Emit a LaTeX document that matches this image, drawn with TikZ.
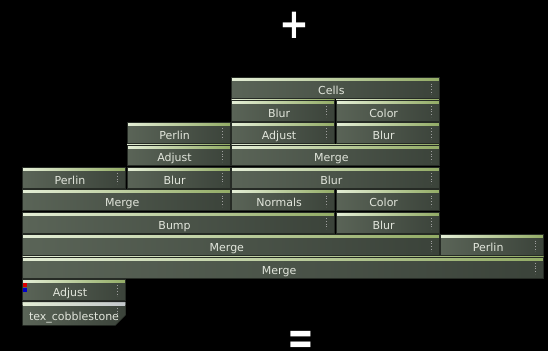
\documentclass[tikz,border=0pt]{standalone}
\usepackage{fontspec}
\setmainfont{DejaVu Sans}
\usetikzlibrary{shapes.misc}
\definecolor{opbody}{HTML}{5A6457}
\definecolor{opdark}{HTML}{3B433A}
\definecolor{oplight}{HTML}{E4EED6}
\definecolor{opgreen}{HTML}{93AC66}
\definecolor{opedge}{HTML}{262B25}
\definecolor{optext}{HTML}{E2E6DC}
\definecolor{storetop}{HTML}{C4C8CC}
\tikzset{
  opbase/.style={rectangle, draw=opedge, line width=0.5pt,
    left color=opbody, right color=opdark, text=optext,
    font=\fontsize{11}{13}\selectfont, anchor=north west,
    minimum height=20.8pt, inner sep=0pt, text height=13.4pt, text depth=0pt,
    path picture={
      \shade[left color=oplight, right color=#1]
        (path picture bounding box.north west) rectangle
        ([yshift=-3.2pt]path picture bounding box.north east);
      \draw[dotted, gray!75, line width=0.7pt]
        ([xshift=-8pt,yshift=-6pt]path picture bounding box.north east) --
        ([xshift=-8pt,yshift=4pt]path picture bounding box.south east);
    }},
  op/.style={opbase=opgreen, minimum width=#1*104.54pt-1.6pt,
    execute at end node={\hspace*{8pt}}},
  op/.default=1,
  store/.style={opbase=storetop, chamfered rectangle,
    chamfered rectangle corners=south east, chamfered rectangle sep=5pt,
    minimum width=102.9pt},
  sign/.style={text=white, font=\bfseries, inner sep=0pt, anchor=base}
}
\begin{document}
\begin{tikzpicture}[x=1pt, y=-1pt]
  \path[use as bounding box, fill=black] (0,0) rectangle (548,351);

  % grid of stack cells
  \foreach \c in {0,...,5}
    \foreach \r in {0,...,10}
      \coordinate (g-\c-\r) at ({22.3+104.54*\c},{77.3+22.43*\r});

  \node[sign, font=\bfseries\fontsize{42}{42}\selectfont] (plus) at (294,38.5)
    {\scalebox{0.85}[1]{+}};

  \node[op=2] (cells) at (g-2-0) {Cells};

  \node[op] (blur1) at (g-2-1) {Blur};
  \node[op] (color1) at (g-3-1) {Color};

  \node[op] (perlin1) at (g-1-2) {Perlin};
  \node[op] (adjust1) at (g-2-2) {Adjust};
  \node[op] (blur2) at (g-3-2) {Blur};

  \node[op] (adjust2) at (g-1-3) {Adjust};
  \node[op=2] (merge1) at (g-2-3) {Merge};

  \node[op] (perlin2) at (g-0-4) {Perlin};
  \node[op] (blur3) at (g-1-4) {Blur};
  \node[op=2] (blur4) at (g-2-4) {Blur};

  \node[op=2] (merge2) at (g-0-5) {Merge};
  \node[op] (normals) at (g-2-5) {Normals};
  \node[op] (color2) at (g-3-5) {Color};

  \node[op=3] (bump) at (g-0-6) {Bump};
  \node[op] (blur5) at (g-3-6) {Blur};

  \node[op=4] (merge3) at (g-0-7) {Merge};
  \node[op] (perlin3) at (g-4-7) {Perlin};

  \node[op=5] (merge4) at (g-0-8) {Merge};

  \node[op] (adjust3) at (g-0-9) {Adjust};
  \fill[red!85!black] ([xshift=1pt,yshift=-4pt]adjust3.north west) rectangle +(3.5,4);
  \fill[blue!80!black] ([xshift=1pt,yshift=-9pt]adjust3.north west) rectangle +(3.5,4);

  \node[store] (cobble) at (g-0-10) {tex\_cobblestone};

  \node[sign, font=\bfseries\fontsize{32}{32}\selectfont] (equals) at (301,351)
    {\raisebox{-3.5pt}[\height][0pt]{\scalebox{1}[1.5]{=}}};
\end{tikzpicture}
\end{document}
